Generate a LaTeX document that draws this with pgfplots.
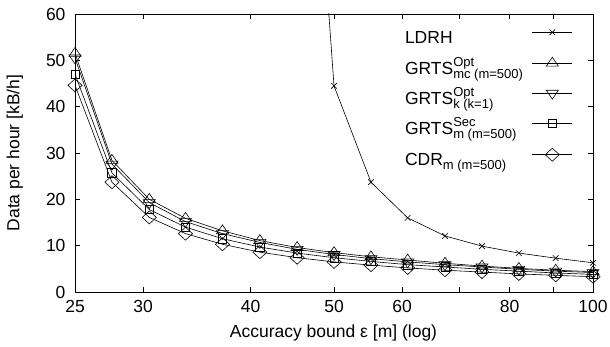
\documentclass[border=0pt]{standalone}
\usepackage{pgfplots}
\pgfplotsset{compat=1.18}
\usepackage{fontspec}
\setmainfont{Liberation Sans}
\newcommand\chartfont{\fontsize{17.5}{20}\selectfont}
\newcommand\smallfont{\fontsize{13}{15}\selectfont}
\newcommand\supsub[2]{\rlap{\raisebox{8pt}{\smallfont #1}}\raisebox{-4pt}{\smallfont #2}}
\begin{document}
\begin{tikzpicture}
\useasboundingbox (-75pt,-55pt) rectangle (535pt,292pt);
\begin{axis}[
  scale only axis, width=518pt, height=278pt,
  xmode=log, xmin=25, xmax=100, ymin=0, ymax=60,
  xtick={25,30,40,50,60,70,80,90,100},
  xticklabels={25,30,40,50,60,,80,,100},
  xminorticks=false,
  ytick={0,10,20,30,40,50,60},
  tick align=inside, major tick length=5pt,
  tick style={black, line width=0.6pt},
  axis line style={line width=0.8pt},
  font=\chartfont,
  /pgf/number format/assume math mode=true,
  xticklabel style={yshift=-5pt},
  yticklabel style={xshift=-6pt},
  xlabel={Accuracy bound ε [m] (log)},
  xlabel style={at={(axis description cs:0.499,-0.165)}, anchor=base},
  ylabel={Data per hour [kB/h]},
  ylabel style={at={(axis description cs:-0.116,0.5)}, anchor=center},
  legend plot pos=right,
  legend cell align=left,
  legend style={draw=none, fill=none, at={(0.961,0.953)}, anchor=north east,
    font=\chartfont, row sep=8pt, column sep=9pt, inner sep=0pt,
    nodes={inner sep=0pt, text height=16pt, text depth=6pt}},
  legend image code/.code={\draw[mark repeat=2,mark phase=2] plot coordinates {(0pt,6pt) (20pt,6pt) (40pt,6pt)};},
  every axis plot/.append style={black, line width=0.6pt, mark options={solid, line width=0.6pt, fill=none}},
  clip=true,
]
\addplot[mark=x, mark size=4pt] coordinates {
(45.3,155) (50,44.5) (55.2,23.7) (60.9,16.0) (67.3,12.1) (74.3,9.9) (82.0,8.4) (90.5,7.3) (100,6.3)};
\addlegendentry{LDRH}
\addplot[mark=triangle, mark size=7pt, mark options={yscale=0.85}] coordinates {
(25,51.5) (27.6,28.4) (30.5,20.0) (33.6,15.9) (37.1,13.2) (41.0,11.1) (45.3,9.6) (50,8.5) (55.2,7.6) (60.9,6.9) (67.3,6.2) (74.3,5.6) (82.0,5.1) (90.5,4.7) (100,4.4)};
\addlegendentry{GRTS\supsub{Opt}{mc (m=500)}}
\addplot[mark=triangle, mark size=7pt, mark options={rotate=180, yscale=0.85}] coordinates {
(25,50.5) (27.6,27.6) (30.5,19.3) (33.6,15.2) (37.1,12.6) (41.0,10.7) (45.3,9.2) (50,8.1) (55.2,7.2) (60.9,6.5) (67.3,5.9) (74.3,5.4) (82.0,4.9) (90.5,4.5) (100,4.2)};
\addlegendentry{GRTS\supsub{Opt}{k (k=1)}}
\addplot[mark=square, mark size=4.2pt] coordinates {
(25,47.0) (27.6,25.7) (30.5,17.8) (33.6,14.0) (37.1,11.5) (41.0,9.7) (45.3,8.4) (50,7.4) (55.2,6.6) (60.9,5.9) (67.3,5.4) (74.3,4.9) (82.0,4.5) (90.5,4.1) (100,3.8)};
\addlegendentry{GRTS\supsub{Sec}{m (m=500)}}
\addplot[mark=diamond, mark size=6.5pt, mark options={xscale=1.45}] coordinates {
(25,44.6) (27.6,23.7) (30.5,16.1) (33.6,12.6) (37.1,10.3) (41.0,8.6) (45.3,7.4) (50,6.5) (55.2,5.8) (60.9,5.2) (67.3,4.7) (74.3,4.3) (82.0,3.9) (90.5,3.6) (100,3.3)};
\addlegendentry{CDR\raisebox{-4pt}{\smallfont m (m=500)}}
\end{axis}
\end{tikzpicture}
\end{document}
